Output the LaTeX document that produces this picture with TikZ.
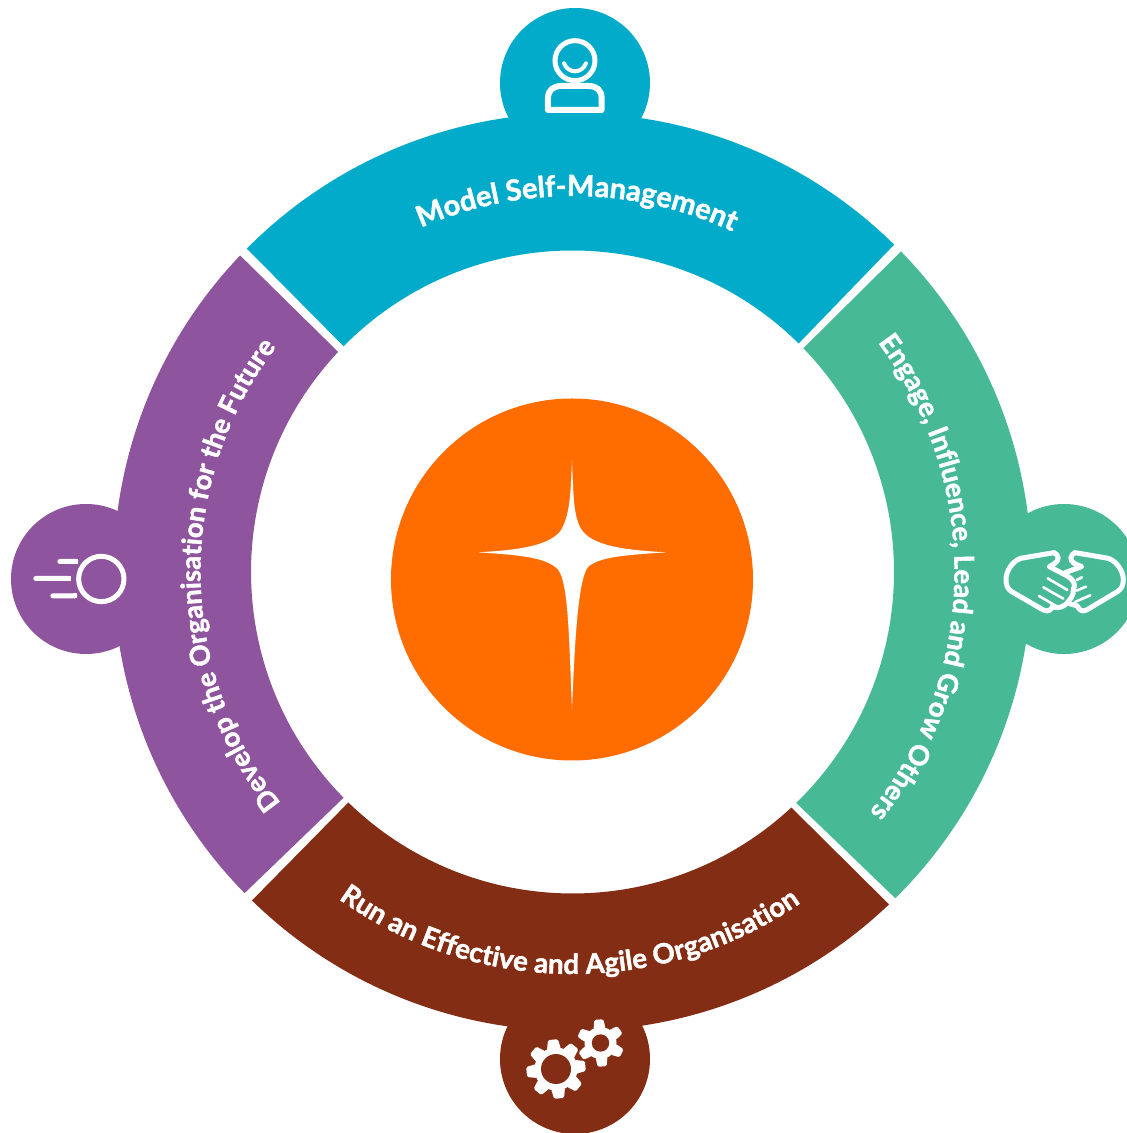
\documentclass[tikz,border=0pt]{standalone}
\usepackage{fontspec}
\setmainfont{Lato}[BoldFeatures={FakeBold=1.5}]
\usetikzlibrary{decorations.text,calc}
\definecolor{cblue}{HTML}{02ABC9}
\definecolor{cgreen}{HTML}{48B995}
\definecolor{cbrown}{HTML}{832D14}
\definecolor{cpurple}{HTML}{8E559E}
\definecolor{corange}{HTML}{FF6C00}
\tikzset{
  hand/.style={draw=white,line width=5pt,fill=none,line join=round,line cap=round},
  handthin/.style={draw=white,line width=2.6pt,line cap=round},
  zoomed/.style={x=0.3333pt,y=-0.3333pt},
}
% #1 colour, #2 outer start, #3 outer end, #4 inner end, #5 inner start
\newcommand{\ringseg}[5]{\fill[#1] (c) ++(#2:459) arc[start angle=#2,end angle=#3,radius=459] -- ($(c)+(#4:321.5)$) arc[start angle=#4,end angle=#5,radius=321.5] -- cycle;}
% #1 radius, #2 start, #3 end, #4 size, #5 text
\newcommand{\ringlabel}[5]{\path[decorate,decoration={text along path,text align=center,text={|\fontsize{#4}{#4}\selectfont\bfseries\color{white}|#5}}] (c) ++(#2:#1) arc[start angle=#2,end angle=#3,radius=#1];}
% #1 x, #2 y, #3 outer r, #4 root r, #5 hole r, #6 teeth, #7 offset, #8 half width outer, #9 half width root
\newcommand{\gearicon}[9]{%
  \fill[white] (#1,#2) circle[radius=#4];
  \pgfmathsetmacro{\gearstep}{360/#6}
  \foreach \k in {1,...,#6}{
    \pgfmathsetmacro{\gearang}{#7+\k*\gearstep}
    \fill[white,rounded corners=1.5pt,rotate around={\gearang:(#1,#2)}]
      (#1+#4-2,#2-#9) -- (#1+#3,#2-#8) -- (#1+#3,#2+#8) -- (#1+#4-2,#2+#9) -- cycle;
  }
  \fill[cbrown] (#1,#2) circle[radius=#5];
}
\begin{document}
\begin{tikzpicture}[x=1pt,y=1pt]
\useasboundingbox (0,0) rectangle (1127,1133);
\clip (0,0) rectangle (1127,1133);
\fill[white] (0,0) rectangle (1127,1133);
\coordinate (c) at (572.5,561);

% tab circles
\fill[cblue] (575,1050) circle[radius=75];
\fill[cgreen] (1064,554) circle[radius=75];
\fill[cbrown] (575,74) circle[radius=75];
\fill[cpurple] (86,554) circle[radius=75];

% ring segments
\ringseg{cblue}{135.2}{45.5}{45.3}{135.4}
\ringseg{cgreen}{44.3}{-45.3}{-45.9}{44.1}
\ringseg{cbrown}{-46.4}{-134.3}{-134.2}{-47.1}
\ringseg{cpurple}{-135.6}{-223.6}{-223.2}{-135.4}

% centre
\fill[corange] (572,553.5) circle[radius=181];
\begin{scope}[shift={(460,683)},zoomed]
\fill[white] (336,30) .. controls (340,130) and (340,195) .. (362,235)
  .. controls (395,290) and (500,300) .. (618,307)
  .. controls (500,315) and (420,320) .. (385,350)
  .. controls (355,385) and (345,560) .. (336,778)
  .. controls (327,560) and (325,400) .. (295,360)
  .. controls (260,320) and (170,315) .. (55,307)
  .. controls (170,300) and (260,290) .. (300,245)
  .. controls (330,200) and (332,130) .. (336,30) -- cycle;
\end{scope}

% labels
\ringlabel{376}{134.3}{44.3}{29}{Model Self-Management}
\ringlabel{382}{46}{-48}{27.5}{Engage, Influence, Lead and Grow Others}
\ringlabel{402}{225}{314}{27.8}{Run an Effective and Agile Organisation}
\ringlabel{372}{-134.4}{-224.4}{27.4}{Develop the Organisation for the Future}

% person icon
\begin{scope}[shift={(480,1133)},zoomed]
\draw[draw=white,line width=5pt] (285,182) circle[radius=60];
\draw[draw=white,line width=4pt,line cap=round] (252,190) .. controls (265,222) and (305,222) .. (318,190);
\draw[draw=white,line width=6pt,line join=round] (204,330) -- (204,295) .. controls (204,270) and (220,258) .. (245,258) -- (325,258) .. controls (350,258) and (365,270) .. (365,295) -- (365,330) -- cycle;
\end{scope}

% handshake icon
\begin{scope}[shift={(980,643)},zoomed]
\draw[hand] (222,188) -- (122,205) .. controls (95,215) and (78,245) .. (78,268) .. controls (78,285) and (82,297) .. (95,305) -- (190,360) .. controls (205,368) and (215,358) .. (218,348);
\draw[hand] (222,188) .. controls (238,195) and (238,210) .. (225,220) -- (208,230) -- (262,258) .. controls (282,270) and (288,285) .. (280,298) .. controls (283,315) and (270,330) .. (255,345) .. controls (240,355) and (225,355) .. (218,348);
\draw[hand] (285,188) -- (385,205) .. controls (412,215) and (430,245) .. (430,268) .. controls (430,285) and (425,297) .. (412,305) -- (320,360) .. controls (305,368) and (297,358) .. (292,348) -- (265,340);
\draw[hand] (285,188) .. controls (270,195) and (268,210) .. (282,220) -- (305,230) -- (255,248);
\draw[handthin] (203,265) -- (262,300);
\draw[handthin] (190,292) -- (250,326);
\draw[handthin] (177,318) -- (235,352);
\draw[handthin] (290,270) -- (306,262);
\draw[handthin] (290,302) -- (318,290);
\draw[handthin] (285,336) -- (331,316);
\end{scope}

% gears
\gearicon{556}{64}{29.5}{21.5}{15}{8}{-84}{5}{7}
\gearicon{600.5}{90}{23.5}{16}{8.7}{6}{34}{4.5}{6}

% ball icon
\begin{scope}[shift={(0,638)},zoomed]
\draw[draw=white,line width=5pt] (304,252) circle[radius=68];
\fill[white,rounded corners=2.5pt] (172,192) rectangle (235,207);
\fill[white] (235,192) rectangle (222,207);
\fill[white,rounded corners=2.5pt] (100,243) rectangle (212,258);
\fill[white] (212,243) rectangle (200,258);
\fill[white,rounded corners=2.5pt] (151,295) rectangle (232,310);
\fill[white] (232,295) rectangle (220,310);
\end{scope}
\end{tikzpicture}
\end{document}
